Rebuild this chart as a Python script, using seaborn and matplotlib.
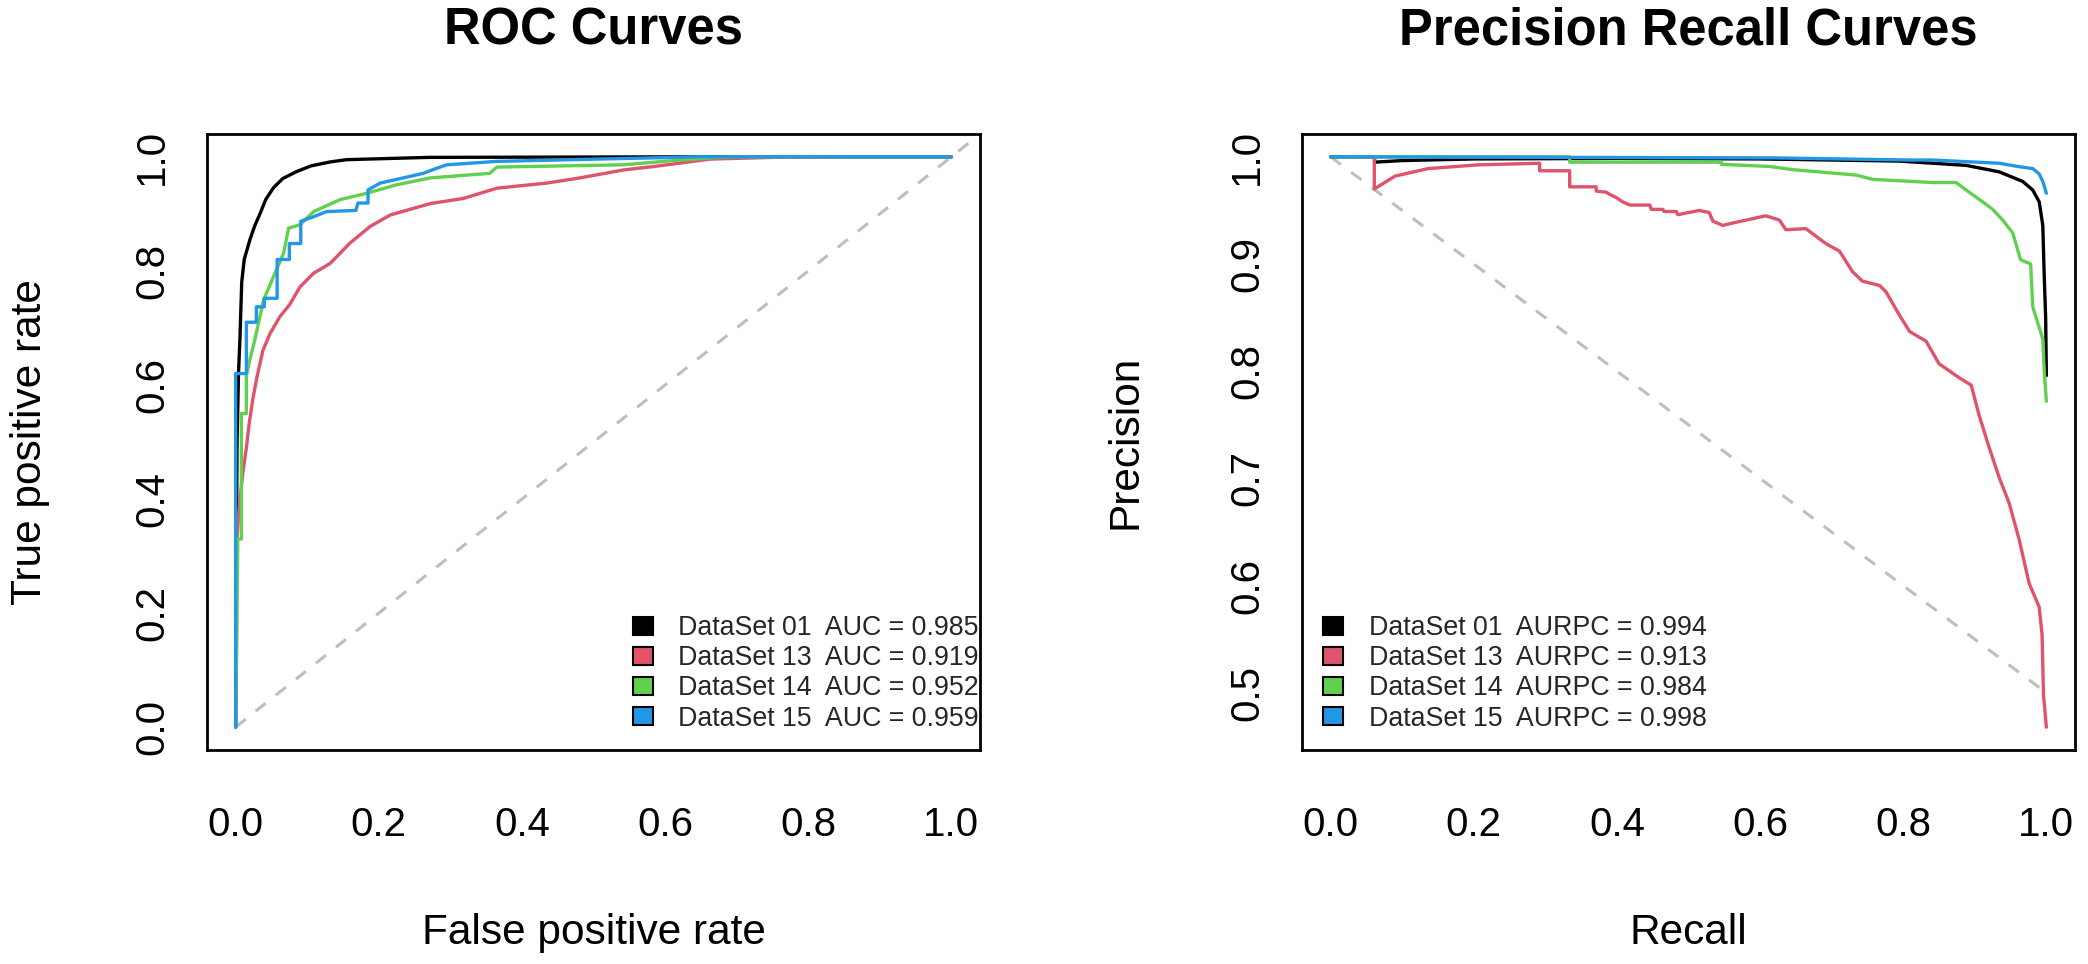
import numpy as np
import pandas as pd
import matplotlib
matplotlib.use("Agg")
import matplotlib.pyplot as plt
from matplotlib.patches import Patch
import seaborn as sns

# ---------------- data ----------------
datasets = ["DataSet 01", "DataSet 13", "DataSet 14", "DataSet 15"]
colors = ["#000000", "#DF536B", "#61D04F", "#2297E6"]
auc_values = ["0.985", "0.919", "0.952", "0.959"]
aurpc_values = ["0.994", "0.913", "0.984", "0.998"]
tick_values = [0.0, 0.2, 0.4, 0.6, 0.8, 1.0]
pr_yticks = [0.5, 0.6, 0.7, 0.8, 0.9, 1.0]

# ROC curves (false positive rate, true positive rate)
roc_fpr_01 = [0, 0.001, 0.002, 0.004, 0.006, 0.0085, 0.012, 0.02, 0.027, 0.034, 0.042, 0.053,
              0.066, 0.085, 0.105, 0.132, 0.155, 0.27, 0.45, 0.635, 1.0]
roc_tpr_01 = [0, 0.30, 0.50, 0.62, 0.68, 0.78, 0.82, 0.855, 0.88, 0.90, 0.925, 0.946,
              0.962, 0.974, 0.984, 0.991, 0.995, 0.999, 0.9995, 1.0, 1.0]

roc_fpr_13 = [0, 0.001, 0.002, 0.006, 0.010, 0.015, 0.019, 0.024, 0.029, 0.038, 0.048, 0.062,
              0.075, 0.090, 0.109, 0.132, 0.160, 0.188, 0.216, 0.272, 0.318, 0.365, 0.435,
              0.481, 0.542, 0.584, 0.621, 0.663, 0.75, 0.877, 1.0]
roc_tpr_13 = [0, 0.10, 0.334, 0.40, 0.445, 0.49, 0.533, 0.575, 0.609, 0.66, 0.69, 0.72,
              0.74, 0.772, 0.796, 0.813, 0.849, 0.878, 0.898, 0.918, 0.927, 0.945, 0.954,
              0.963, 0.977, 0.983, 0.989, 0.996, 0.999, 1.0, 1.0]

roc_fpr_14 = [0, 0.003, 0.008, 0.008, 0.015, 0.015, 0.019, 0.027, 0.039, 0.053, 0.067, 0.074,
              0.090, 0.109, 0.146, 0.183, 0.225, 0.272, 0.355, 0.365, 0.542, 0.598, 0.663,
              0.70, 1.0]
roc_tpr_14 = [0, 0.33, 0.33, 0.55, 0.55, 0.615, 0.64, 0.68, 0.749, 0.79, 0.831, 0.875,
              0.881, 0.904, 0.925, 0.936, 0.951, 0.963, 0.971, 0.982, 0.986, 0.992, 0.998,
              1.0, 1.0]

roc_fpr_15 = [0, 0, 0.015, 0.015, 0.029, 0.029, 0.040, 0.040, 0.058, 0.058, 0.075, 0.075,
              0.091, 0.091, 0.109, 0.127, 0.168, 0.171, 0.185, 0.185, 0.202, 0.234, 0.262,
              0.281, 0.295, 0.365, 0.505, 0.597, 0.644, 1.0]
roc_tpr_15 = [0, 0.62, 0.62, 0.71, 0.71, 0.737, 0.737, 0.752, 0.752, 0.82, 0.82, 0.848,
              0.848, 0.887, 0.895, 0.904, 0.906, 0.919, 0.919, 0.942, 0.954, 0.963, 0.971,
              0.980, 0.986, 0.992, 0.996, 0.9985, 1.0, 1.0]

# Precision-recall curves (recall, precision)
pr_rec_01 = [0, 0.0614, 0.0614, 0.10, 0.20, 0.40, 0.60, 0.75, 0.795, 0.888, 0.934, 0.967,
             0.981, 0.990, 0.995, 0.997, 0.999, 1.0]
pr_prec_01 = [1.0, 1.0, 0.995, 0.9965, 0.998, 0.9985, 0.998, 0.9965, 0.996, 0.992, 0.986,
              0.977, 0.969, 0.958, 0.936, 0.889, 0.85, 0.796]

pr_rec_13 = [0, 0.061, 0.061, 0.09, 0.136, 0.206, 0.292, 0.292, 0.334, 0.334, 0.371, 0.371,
             0.385, 0.39, 0.399, 0.408, 0.418, 0.446, 0.448, 0.464, 0.466, 0.483, 0.485,
             0.515, 0.529, 0.534, 0.548, 0.56, 0.608, 0.627, 0.636, 0.664, 0.692, 0.711,
             0.729, 0.743, 0.767, 0.776, 0.795, 0.809, 0.832, 0.85, 0.878, 0.895, 0.906,
             0.92, 0.934, 0.948, 0.962, 0.976, 0.99, 0.994, 0.996, 1.0]
pr_prec_13 = [1.0, 1.0, 0.970, 0.982, 0.989, 0.9925, 0.994, 0.987, 0.987, 0.972, 0.972, 0.968,
              0.967, 0.965, 0.962, 0.958, 0.955, 0.955, 0.951, 0.951, 0.949, 0.949, 0.946,
              0.950, 0.948, 0.940, 0.936, 0.938, 0.945, 0.941, 0.932, 0.933, 0.919, 0.912,
              0.893, 0.884, 0.880, 0.874, 0.852, 0.837, 0.828, 0.807, 0.794, 0.787, 0.759,
              0.729, 0.701, 0.677, 0.643, 0.602, 0.580, 0.554, 0.498, 0.468]

pr_rec_14 = [0, 0.334, 0.334, 0.546, 0.546, 0.613, 0.646, 0.734, 0.757, 0.841, 0.874, 0.888,
             0.911, 0.925, 0.939, 0.953, 0.964, 0.978, 0.981, 0.988, 0.995, 0.997, 1.0]
pr_prec_14 = [1.0, 1.0, 0.995, 0.995, 0.993, 0.991, 0.988, 0.983, 0.979, 0.976, 0.976, 0.969,
              0.958, 0.951, 0.941, 0.929, 0.904, 0.900, 0.860, 0.845, 0.830, 0.800, 0.772]

pr_rec_15 = [0, 0.62, 0.81, 0.841, 0.934, 0.96, 0.981, 0.99, 0.995, 1.0]
pr_prec_15 = [1.0, 0.999, 0.997, 0.997, 0.994, 0.991, 0.989, 0.984, 0.977, 0.966]

# ---------------- tables ----------------
def long_table(xs, ys, xname, yname):
    frames = []
    for name, x, y in zip(datasets, xs, ys):
        frames.append(pd.DataFrame({xname: x, yname: y, "dataset": name}))
    return pd.concat(frames, ignore_index=True)

roc_df = long_table([roc_fpr_01, roc_fpr_13, roc_fpr_14, roc_fpr_15],
                    [roc_tpr_01, roc_tpr_13, roc_tpr_14, roc_tpr_15], "fpr", "tpr")
pr_df = long_table([pr_rec_01, pr_rec_13, pr_rec_14, pr_rec_15],
                   [pr_prec_01, pr_prec_13, pr_prec_14, pr_prec_15], "recall", "precision")
palette = dict(zip(datasets, colors))

# ---------------- style ----------------
sns.set_style("white")
plt.rcParams["font.family"] = ["Liberation Sans", "DejaVu Sans"]
plt.rcParams["axes.linewidth"] = 2.0
plt.rcParams["axes.edgecolor"] = "black"

W, H = 2088, 964
fig = plt.figure(figsize=(W / 100, H / 100), dpi=100)
ax_l = fig.add_axes([207 / W, (H - 750) / H, 773 / W, 616 / H])
ax_r = fig.add_axes([1302 / W, (H - 750) / H, 773 / W, 616 / H])

def expand(lo, hi):
    d = hi - lo
    return lo - 0.04 * d, hi + 0.04 * d

TICK_FS = 29
LAB_FS = 30.5
TITLE_FS = 36.5
LEG_FS = 19.3
CURVE_LW = 2.4

def style_axes(ax, xticks, yticks, xlabel, ylabel, title):
    for s in ax.spines.values():
        s.set_visible(True)
        s.set_color("black")
        s.set_linewidth(2.0)
    ax.set_xticks(xticks)
    ax.set_xticklabels([f"{v:.1f}" for v in xticks])
    ax.set_yticks(yticks)
    ax.set_yticklabels([f"{v:.1f}" for v in yticks], rotation=90, va="center")
    ax.tick_params(axis="both", which="major", direction="out", length=19, width=2.0,
                   color="black", labelsize=TICK_FS, labelcolor="black")
    ax.tick_params(axis="x", pad=21)
    ax.tick_params(axis="y", pad=7)
    ax.grid(False)
    ax.set_xlabel(xlabel, fontsize=LAB_FS, color="black")
    ax.set_ylabel(ylabel, fontsize=LAB_FS, color="black")
    ax.xaxis.set_label_coords(0.5, (750 - 933) / 616)
    ax.xaxis.label.set_verticalalignment("center")
    ax.yaxis.set_label_coords((30 - 207) / 773, 0.5)
    ax.yaxis.label.set_verticalalignment("center")
    ax.set_title(title, fontsize=TITLE_FS, fontweight="bold", color="black",
                 y=1 + (134 - 39) / 616, va="center")

# ---------------- ROC ----------------
ax_l.set_xlim(*expand(0, 1))
ax_l.set_ylim(*expand(0, 1))
xmax = ax_l.get_xlim()[1]
ax_l.plot([0, xmax], [0, xmax], color="#BEBEBE", lw=2.2, linestyle=(0, (4.2, 4.2)), zorder=1)
sns.lineplot(data=roc_df, x="fpr", y="tpr", hue="dataset", hue_order=datasets,
             palette=palette, estimator=None, sort=False, linewidth=CURVE_LW,
             legend=False, ax=ax_l, zorder=2)
style_axes(ax_l, tick_values, tick_values, "False positive rate", "True positive rate",
           "ROC Curves")

def fill_handles():
    return [Patch(facecolor=c, edgecolor="black", linewidth=1.5) for c in colors]

leg_kw = dict(frameon=False, fontsize=LEG_FS, handlelength=0.75, handleheight=0.62,
              handletextpad=0.95, labelspacing=0.15, borderpad=0, borderaxespad=0)

ax_l.legend(fill_handles(), [f"{d}  AUC = {v}" for d, v in zip(datasets, auc_values)],
            loc="lower right", bbox_to_anchor=((979 - 207) / 773, 0.03), **leg_kw)

# ---------------- PR ----------------
all_prec = pr_prec_01 + pr_prec_13 + pr_prec_14 + pr_prec_15
ax_r.set_xlim(*expand(0, 1))
ax_r.set_ylim(*expand(min(all_prec), max(all_prec)))
ax_r.plot([0, 1], [1, 0.5], color="#BEBEBE", lw=2.2, linestyle=(0, (4.2, 4.2)), zorder=1)
sns.lineplot(data=pr_df, x="recall", y="precision", hue="dataset", hue_order=datasets,
             palette=palette, estimator=None, sort=False, linewidth=CURVE_LW,
             legend=False, ax=ax_r, zorder=2)
style_axes(ax_r, tick_values, pr_yticks, "Recall", "Precision", "Precision Recall Curves")
ax_r.legend(fill_handles(), [f"{d}  AURPC = {v}" for d, v in zip(datasets, aurpc_values)],
            loc="lower left", bbox_to_anchor=((1323 - 1302) / 773, 0.03), **leg_kw)

fig.savefig("out.png", dpi=100, facecolor="white")
